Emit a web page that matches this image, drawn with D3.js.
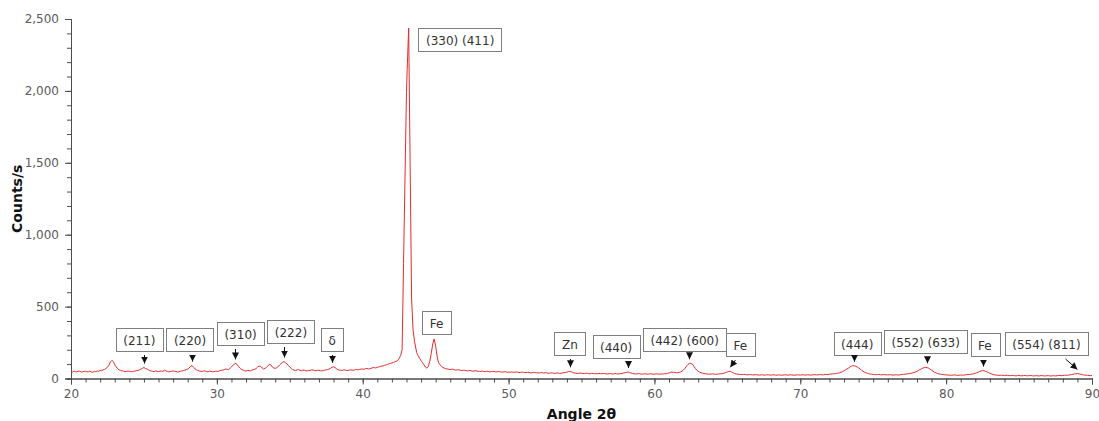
<!DOCTYPE html>
<html>
<head>
<meta charset="utf-8">
<script src="https://cdn.jsdelivr.net/npm/d3@7"></script>
<style>
  html, body { margin: 0; padding: 0; background: #fff; }
  svg { display: block; }
  text { font-family: "DejaVu Sans", Verdana, sans-serif; }
</style>
</head>
<body>
<svg id="chart" width="1099" height="421"></svg>
<script>
// ---------- data ----------
const scanAngles = [
  20.0,20.1,20.2,20.3,20.4,20.5,20.6,20.7,20.8,20.9,21.0,21.1,21.2,21.3,21.4,21.5,21.6,21.7,21.8,21.9,
  22.0,22.1,22.2,22.3,22.4,22.5,22.6,22.7,22.8,22.9,23.0,23.1,23.2,23.3,23.4,23.5,23.6,23.7,23.8,23.9,
  24.0,24.1,24.2,24.3,24.4,24.5,24.6,24.7,24.8,24.9,25.0,25.1,25.2,25.3,25.4,25.5,25.6,25.7,25.8,25.9,
  26.0,26.1,26.2,26.3,26.4,26.5,26.6,26.7,26.8,26.9,27.0,27.1,27.2,27.3,27.4,27.5,27.6,27.7,27.8,27.9,
  28.0,28.1,28.2,28.3,28.4,28.5,28.6,28.7,28.8,28.9,29.0,29.1,29.2,29.3,29.4,29.5,29.6,29.7,29.8,29.9,
  30.0,30.1,30.2,30.3,30.4,30.5,30.6,30.7,30.8,30.9,31.0,31.1,31.2,31.3,31.4,31.5,31.6,31.7,31.8,31.9,
  32.0,32.1,32.2,32.3,32.4,32.5,32.6,32.7,32.8,32.9,33.0,33.1,33.2,33.3,33.4,33.5,33.6,33.7,33.8,33.9,
  34.0,34.1,34.2,34.3,34.4,34.5,34.6,34.7,34.8,34.9,35.0,35.1,35.2,35.3,35.4,35.5,35.6,35.7,35.8,35.9,
  36.0,36.1,36.2,36.3,36.4,36.5,36.6,36.7,36.8,36.9,37.0,37.1,37.2,37.3,37.4,37.5,37.6,37.7,37.8,37.9,
  38.0,38.1,38.2,38.3,38.4,38.5,38.6,38.7,38.8,38.9,39.0,39.1,39.2,39.3,39.4,39.5,39.6,39.7,39.8,39.9,
  40.0,40.1,40.2,40.3,40.4,40.5,40.6,40.7,40.8,40.9,41.0,41.1,41.2,41.3,41.4,41.5,41.6,41.7,41.8,41.9,
  42.0,42.1,42.2,42.3,42.4,42.5,42.6,42.7,42.8,42.9,
  43.0,43.05,43.15,43.25,43.35,43.45,43.55,43.7,43.8,43.9,
  44.0,44.1,44.2,44.3,44.4,44.5,44.6,44.7,44.8,44.9,
  45.0,45.1,45.2,45.3,45.4,45.5,45.6,45.7,45.8,45.9,
  46.0,46.1,46.2,46.3,46.4,46.5,46.6,46.7,46.8,46.9,47.0,47.1,47.2,47.3,47.4,47.5,47.6,47.7,47.8,47.9,
  48.0,48.1,48.2,48.3,48.4,48.5,48.6,48.7,48.8,48.9,49.0,49.1,49.2,49.3,49.4,49.5,49.6,49.7,49.8,49.9,
  50.0,50.1,50.2,50.3,50.4,50.5,50.6,50.7,50.8,50.9,51.0,51.1,51.2,51.3,51.4,51.5,51.6,51.7,51.8,51.9,
  52.0,52.1,52.2,52.3,52.4,52.5,52.6,52.7,52.8,52.9,53.0,53.1,53.2,53.3,53.4,53.5,53.6,53.7,53.8,53.9,
  54.0,54.1,54.2,54.3,54.4,54.5,54.6,54.7,54.8,54.9,55.0,55.1,55.2,55.3,55.4,55.5,55.6,55.7,55.8,55.9,
  56.0,56.1,56.2,56.3,56.4,56.5,56.6,56.7,56.8,56.9,57.0,57.1,57.2,57.3,57.4,57.5,57.6,57.7,57.8,57.9,
  58.0,58.1,58.2,58.3,58.4,58.5,58.6,58.7,58.8,58.9,59.0,59.1,59.2,59.3,59.4,59.5,59.6,59.7,59.8,59.9,
  60.0,60.1,60.2,60.3,60.4,60.5,60.6,60.7,60.8,60.9,61.0,61.1,61.2,61.3,61.4,61.5,61.6,61.7,61.8,61.9,
  62.0,62.1,62.2,62.3,62.4,62.5,62.6,62.7,62.8,62.9,63.0,63.1,63.2,63.3,63.4,63.5,63.6,63.7,63.8,63.9,
  64.0,64.1,64.2,64.3,64.4,64.5,64.6,64.7,64.8,64.9,65.0,65.1,65.2,65.3,65.4,65.5,65.6,65.7,65.8,65.9,
  66.0,66.1,66.2,66.3,66.4,66.5,66.6,66.7,66.8,66.9,67.0,67.1,67.2,67.3,67.4,67.5,67.6,67.7,67.8,67.9,
  68.0,68.1,68.2,68.3,68.4,68.5,68.6,68.7,68.8,68.9,69.0,69.1,69.2,69.3,69.4,69.5,69.6,69.7,69.8,69.9,
  70.0,70.1,70.2,70.3,70.4,70.5,70.6,70.7,70.8,70.9,71.0,71.1,71.2,71.3,71.4,71.5,71.6,71.7,71.8,71.9,
  72.0,72.1,72.2,72.3,72.4,72.5,72.6,72.7,72.8,72.9,73.0,73.1,73.2,73.3,73.4,73.5,73.6,73.7,73.8,73.9,
  74.0,74.1,74.2,74.3,74.4,74.5,74.6,74.7,74.8,74.9,75.0,75.1,75.2,75.3,75.4,75.5,75.6,75.7,75.8,75.9,
  76.0,76.1,76.2,76.3,76.4,76.5,76.6,76.7,76.8,76.9,77.0,77.1,77.2,77.3,77.4,77.5,77.6,77.7,77.8,77.9,
  78.0,78.1,78.2,78.3,78.4,78.5,78.6,78.7,78.8,78.9,79.0,79.1,79.2,79.3,79.4,79.5,79.6,79.7,79.8,79.9,
  80.0,80.1,80.2,80.3,80.4,80.5,80.6,80.7,80.8,80.9,81.0,81.1,81.2,81.3,81.4,81.5,81.6,81.7,81.8,81.9,
  82.0,82.1,82.2,82.3,82.4,82.5,82.6,82.7,82.8,82.9,83.0,83.1,83.2,83.3,83.4,83.5,83.6,83.7,83.8,83.9,
  84.0,84.1,84.2,84.3,84.4,84.5,84.6,84.7,84.8,84.9,85.0,85.1,85.2,85.3,85.4,85.5,85.6,85.7,85.8,85.9,
  86.0,86.1,86.2,86.3,86.4,86.5,86.6,86.7,86.8,86.9,87.0,87.1,87.2,87.3,87.4,87.5,87.6,87.7,87.8,87.9,
  88.0,88.1,88.2,88.3,88.4,88.5,88.6,88.7,88.8,88.9,89.0,89.1,89.2,89.3,89.4,89.5,89.6,89.7,89.8,89.9,
  90.0
];
const scanCounts = [
  48,44,52,47,46,51,50,45,47,49,51,46,48,52,45,43,50,47,53,50,
  56,54,60,63,70,78,92,115,126,118,95,80,68,60,56,53,52,48,49,51,
  51,48,47,50,52,55,56,60,66,72,76,70,66,60,55,52,50,47,53,50,
  48,51,52,49,58,54,50,46,48,51,52,50,49,45,47,50,52,55,58,61,
  66,74,84,90,78,68,60,55,52,50,49,53,52,48,47,51,50,46,48,50,
  51,49,54,57,58,62,66,64,62,70,80,92,100,105,96,82,70,63,58,54,
  52,56,55,53,58,62,64,70,80,86,84,75,66,70,78,88,98,95,80,74,
  70,75,82,94,104,112,118,110,102,90,80,70,62,58,56,60,62,57,54,58,
  57,54,52,56,56,60,59,55,54,57,57,55,53,56,58,61,62,66,72,78,
  82,76,68,62,58,57,56,60,59,55,56,59,60,57,58,62,62,60,64,66,
  66,64,68,70,66,69,72,75,76,73,78,80,84,86,88,92,94,98,102,105,
  108,112,116,120,126,140,160,200,800,1400,
  1990,2150,2437,1500,560,340,260,180,160,140,
  125,110,95,80,72,85,120,175,240,275,
  225,155,110,95,84,76,72,68,66,64,
  62,65,64,60,58,62,60,57,55,58,57,54,53,56,55,51,51,54,53,50,
  50,49,52,48,48,50,50,46,47,49,49,46,46,48,48,44,45,47,47,43,
  45,43,46,44,43,45,45,41,42,44,44,41,41,43,43,39,40,42,42,39,
  40,38,41,40,38,40,40,36,37,39,39,36,36,38,38,35,37,39,40,42,
  44,48,50,46,42,38,37,35,36,38,37,34,35,36,36,33,34,36,35,33,
  34,33,35,34,33,35,34,31,32,33,34,31,32,34,33,31,33,34,36,39,
  40,43,45,41,38,35,33,31,32,34,33,30,31,32,32,30,30,33,32,30,
  30,31,32,30,30,32,31,33,33,36,38,42,45,43,42,40,40,43,46,52,
  60,72,85,98,106,104,100,86,70,58,50,44,40,37,35,33,32,30,30,31,
  32,30,29,30,31,33,33,36,38,42,46,49,50,45,40,35,32,30,29,28,
  27,28,28,26,25,27,27,25,25,26,27,24,24,25,26,23,24,25,26,24,
  24,25,26,23,23,25,25,22,24,25,26,23,24,26,25,24,23,24,25,25,
  24,25,26,24,24,26,25,23,25,26,27,25,25,27,27,25,26,28,28,27,
  30,31,32,33,34,36,38,40,44,48,54,60,66,72,80,85,89,88,86,80,
  74,66,58,50,44,40,36,33,31,30,28,27,26,28,28,26,25,27,27,25,
  25,26,26,24,24,25,26,24,25,27,28,29,30,31,33,34,36,39,42,46,
  50,56,62,67,72,76,78,75,72,65,58,51,44,40,35,32,30,29,27,26,
  25,24,24,23,23,24,25,23,22,23,24,24,23,25,27,27,28,30,31,33,
  37,40,45,49,53,55,55,50,46,41,36,32,28,26,24,23,22,22,23,22,
  21,22,22,20,20,21,21,19,19,20,21,19,19,20,21,19,19,20,21,19,
  18,19,20,18,18,20,20,18,18,19,20,18,18,19,19,18,19,21,21,20,
  21,22,23,22,24,26,27,29,32,33,35,33,30,28,25,24,23,22,21,20,
  20
];

const xTickValues = [20, 30, 40, 50, 60, 70, 80, 90];
const yTickValues = [0, 500, 1000, 1500, 2000, 2500];

const peakLabels = ["(211)", "(220)", "(310)", "(222)", "δ", "(330) (411)", "Fe", "Zn", "(440)", "(442) (600)", "Fe", "(444)", "(552) (633)", "Fe", "(554) (811)"];
const peakAngles = [25.0, 28.3, 31.25, 34.6, 37.9, 43.15, 44.9, 54.2, 58.2, 62.35, 65.2, 73.7, 78.7, 82.55, 89.0];

// ---------- layout (pixel placement of the label boxes) ----------
const labelLayout = [
  { boxDx: -4.5, boxTop: 328, arrow: "down" },
  { boxDx: -2,   boxTop: 328, arrow: "down" },
  { boxDx: 5.5,  boxTop: 322, arrow: "down" },
  { boxDx: 7,    boxTop: 320, arrow: "down" },
  { boxDx: 0,    boxTop: 328, arrow: "down" },
  { boxDx: 51.5, boxTop: 28,  arrow: "none" },
  { boxDx: 2.5,  boxTop: 311, arrow: "none" },
  { boxDx: 0,    boxTop: 332, arrow: "down" },
  { boxDx: -12,  boxTop: 335, arrow: "down" },
  { boxDx: -4,   boxTop: 328, arrow: "down" },
  { boxDx: 10,   boxTop: 333, arrow: "diag", sx: 4.5 },
  { boxDx: 3,    boxTop: 332, arrow: "down" },
  { boxDx: -1.5, boxTop: 330, arrow: "down" },
  { boxDx: 1.5,  boxTop: 333, arrow: "down" },
  { boxDx: -31,  boxTop: 332, arrow: "diag", sx: -12 }
];

// ---------- chart ----------
const svg = d3.select("#chart");
const plotLeft = 71, plotRight = 1092, plotTop = 19, plotBottom = 378.5;

const x = d3.scaleLinear().domain([20, 90]).range([plotLeft, plotRight]);
const y = d3.scaleLinear().domain([0, 2500]).range([plotBottom, plotTop]);

const axisColor = "#4d4d4d";
const labelColor = "#5a5a5a";

const gxMinor = svg.append("g").attr("transform", `translate(0,${plotBottom})`)
  .call(d3.axisBottom(x).tickValues(d3.range(20, 90.01, 1)).tickSize(4).tickFormat(""));
const gyMinor = svg.append("g").attr("transform", `translate(${plotLeft},0)`)
  .call(d3.axisLeft(y).tickValues(d3.range(0, 2500.1, 100)).tickSize(4).tickFormat(""));

const gx = svg.append("g").attr("transform", `translate(0,${plotBottom})`)
  .call(d3.axisBottom(x).tickValues(xTickValues).tickSize(6).tickPadding(5).tickFormat(d3.format("d")));
const gy = svg.append("g").attr("transform", `translate(${plotLeft},0)`)
  .call(d3.axisLeft(y).tickValues(yTickValues).tickSize(6).tickPadding(6).tickFormat(d3.format(",")));

[gxMinor, gyMinor, gx, gy].forEach(g => {
  g.select(".domain").attr("stroke", axisColor);
  g.selectAll(".tick line").attr("stroke", axisColor);
  g.selectAll(".tick text").attr("fill", labelColor)
    .style("font-family", "'DejaVu Sans', Verdana, sans-serif").style("font-size", "12px");
});

svg.append("text")
  .attr("transform", `translate(22,${(plotTop + plotBottom) / 2}) rotate(-90)`)
  .attr("text-anchor", "middle")
  .style("font-size", "14px").style("font-weight", "bold").attr("fill", "#111")
  .text("Counts/s");
svg.append("text")
  .attr("x", (plotLeft + plotRight) / 2).attr("y", 419)
  .attr("text-anchor", "middle")
  .style("font-size", "14px").style("font-weight", "bold").attr("fill", "#111")
  .text("Angle 2θ");

const scan = scanAngles.map((a, i) => [a, scanCounts[i]]);
svg.append("path")
  .datum(scan)
  .attr("fill", "none")
  .attr("stroke", "#e62a2d")
  .attr("stroke-width", 1)
  .attr("stroke-linejoin", "round")
  .attr("d", d3.line().x(d => x(d[0])).y(d => y(d[1])));

svg.append("defs").append("marker")
  .attr("id", "arrowhead")
  .attr("viewBox", "0 0 10 10")
  .attr("refX", 10).attr("refY", 5)
  .attr("markerUnits", "userSpaceOnUse")
  .attr("markerWidth", 7).attr("markerHeight", 7)
  .attr("orient", "auto")
  .append("path").attr("d", "M0,0 L10,5 L0,10 z").attr("fill", "#111");

function peakValue(angle) {
  let best = 0;
  scan.forEach(d => { if (Math.abs(d[0] - angle) <= 0.15 && d[1] > best) best = d[1]; });
  return best;
}

const ann = svg.append("g");
peakLabels.forEach((label, i) => {
  const lay = labelLayout[i];
  const px = x(peakAngles[i]);
  const cx = px + lay.boxDx;
  const g = ann.append("g");
  const t = g.append("text")
    .attr("x", cx).attr("y", lay.boxTop + 17)
    .attr("text-anchor", "middle")
    .style("font-size", "12px").attr("fill", "#333")
    .text(label);
  const w = t.node().getComputedTextLength() + 15;
  g.insert("rect", "text")
    .attr("x", Math.round(cx - w / 2) + 0.5).attr("y", lay.boxTop + 0.5)
    .attr("width", Math.round(w)).attr("height", 23)
    .attr("fill", "#fff").attr("stroke", "#7f7f7f").attr("stroke-width", 1);
  if (lay.arrow !== "none") {
    const tipY = y(peakValue(peakAngles[i])) - 4;
    const x0 = lay.arrow === "diag" ? px + lay.sx : px;
    ann.append("line")
      .attr("x1", Math.round(x0) + 0.5).attr("y1", lay.boxTop + 27)
      .attr("x2", lay.arrow === "diag" ? px : Math.round(px) + 0.5).attr("y2", tipY)
      .attr("stroke", "#111").attr("stroke-width", 1)
      .attr("marker-end", "url(#arrowhead)");
  }
});
</script>
</body>
</html>
